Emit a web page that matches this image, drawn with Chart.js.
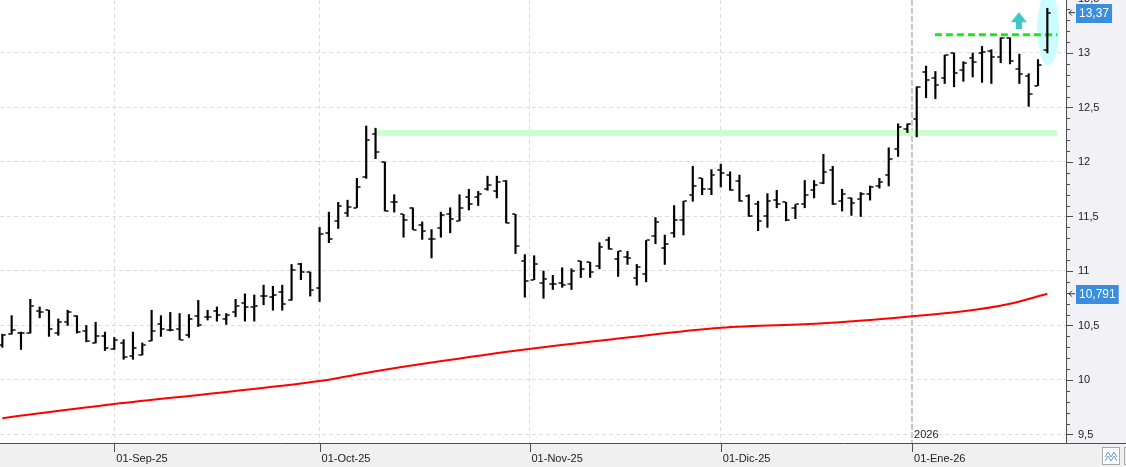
<!DOCTYPE html>
<html>
<head>
<meta charset="utf-8">
<script src="https://cdn.jsdelivr.net/npm/chart.js@4.4.1/dist/chart.umd.min.js"></script>
<style>
  html, body { margin: 0; padding: 0; background: #fff; }
  canvas { display: block; }
</style>
</head>
<body>
<canvas id="chart" width="1126" height="467"></canvas>
<script>
// Daily sessions, mid-Aug 2025 to late Jan 2026 (one entry per session)
const opens = [10.32,10.42,10.43,10.43,10.63,10.64,10.43,10.53,10.59,10.45,
  10.34,10.40,10.28,10.34,10.22,10.23,10.36,10.51,10.46,10.47,
  10.41,10.59,10.58,10.63,10.56,10.62,10.71,10.67,10.77,10.76,
  10.81,10.73,11.06,10.99,10.84,11.35,11.46,11.53,11.58,11.86,
  12.26,12.00,11.63,11.52,11.58,11.42,11.29,11.39,11.52,11.46,
  11.68,11.68,11.75,11.73,11.83,11.52,11.09,10.92,10.89,10.88,
  10.89,10.88,11.09,11.08,11.05,11.28,11.11,11.13,10.94,10.97,
  11.32,11.21,11.35,11.47,11.70,11.85,11.75,11.93,11.88,11.83,
  11.69,11.61,11.50,11.65,11.63,11.58,11.61,11.74,11.81,11.93,
  11.64,11.67,11.66,11.71,11.78,11.88,12.12,12.30,12.39,12.83,
  12.77,12.77,13.00,12.84,12.95,13.00,13.02,12.96,13.14,12.85,
  12.79,12.70,13.03];
const highs = [10.42,10.59,10.44,10.74,10.67,10.64,10.56,10.64,10.59,10.50,
  10.53,10.44,10.39,10.37,10.44,10.34,10.64,10.59,10.62,10.61,
  10.60,10.73,10.64,10.67,10.61,10.74,10.79,10.78,10.87,10.86,
  10.87,11.06,11.07,10.99,11.40,11.54,11.63,11.65,11.85,12.33,
  12.31,12.00,11.70,11.52,11.58,11.45,11.38,11.54,11.58,11.70,
  11.75,11.73,11.87,11.87,11.83,11.52,11.15,11.14,11.00,10.96,
  11.03,11.02,11.09,11.08,11.26,11.31,11.18,11.18,11.06,11.28,
  11.49,11.33,11.60,11.64,11.96,11.85,11.93,11.98,11.91,11.88,
  11.70,11.64,11.71,11.74,11.63,11.61,11.83,11.83,12.07,11.96,
  11.75,11.67,11.72,11.78,11.85,12.13,12.35,12.35,12.69,12.88,
  12.83,12.98,13.00,12.92,13.00,13.06,13.03,13.14,13.14,12.99,
  12.81,12.94,13.41];
const lows = [10.30,10.42,10.28,10.43,10.57,10.40,10.41,10.50,10.43,10.35,
  10.34,10.27,10.28,10.19,10.19,10.23,10.36,10.40,10.45,10.37,
  10.39,10.49,10.55,10.54,10.51,10.58,10.54,10.54,10.69,10.64,
  10.64,10.73,10.92,10.77,10.72,11.26,11.39,11.50,11.58,11.85,
  12.03,11.55,11.54,11.31,11.38,11.29,11.12,11.31,11.35,11.46,
  11.56,11.60,11.74,11.67,11.44,11.16,10.76,10.92,10.75,10.83,
  10.85,10.83,10.94,10.94,11.02,11.20,10.95,11.06,10.87,10.90,
  11.25,11.06,11.31,11.33,11.64,11.70,11.70,11.77,11.74,11.64,
  11.50,11.37,11.40,11.58,11.46,11.48,11.58,11.67,11.80,11.61,
  11.55,11.51,11.50,11.65,11.76,11.78,12.05,12.27,12.23,12.59,
  12.58,12.72,12.69,12.74,12.78,12.73,12.72,12.91,12.90,12.72,
  12.51,12.70,13.00];
const closes = [10.41,10.46,10.43,10.68,10.62,10.47,10.53,10.62,10.44,10.36,
  10.40,10.29,10.37,10.21,10.29,10.32,10.45,10.47,10.46,10.37,
  10.56,10.50,10.58,10.60,10.60,10.68,10.67,10.68,10.77,10.78,
  10.70,11.01,10.99,10.83,11.34,11.29,11.60,11.59,11.77,12.20,
  12.09,11.55,11.63,11.47,11.38,11.37,11.29,11.51,11.48,11.58,
  11.61,11.71,11.79,11.82,11.44,11.23,10.91,11.06,10.93,10.88,
  10.87,11.00,11.02,10.99,11.22,11.20,11.18,11.12,11.04,11.28,
  11.45,11.25,11.47,11.64,11.78,11.75,11.88,11.90,11.74,11.64,
  11.50,11.46,11.64,11.61,11.47,11.61,11.70,11.79,11.91,11.61,
  11.71,11.62,11.71,11.77,11.82,12.03,12.32,12.35,12.69,12.75,
  12.71,12.98,12.82,12.91,12.92,13.01,12.96,13.14,12.93,12.81,
  12.62,12.89,13.37];

// long moving average (red), read at a handful of sessions
const maIndex = [0, 12, 24, 34, 40, 46, 56, 66, 77, 88, 97, 103, 108, 112];
const maValues = [9.65, 9.78, 9.89, 9.99, 10.08, 10.16, 10.28, 10.38, 10.48, 10.52, 10.58, 10.63, 10.70, 10.791];

// month marks on the session axis
const monthPos = [12, 34, 56.5, 77, 97.5];
const monthLabels = ['01-Sep-25', '01-Oct-25', '01-Nov-25', '01-Dic-25', '01-Ene-26'];
const yearPos = 97.5;
const yearLabel = '2026';

// drawn lines: support band and resistance
const supportLevel = 12.265;
const supportFrom = 40.05, supportTo = 113.05;
const resistLevel = 13.168;
const resistFrom = 99.95, resistTo = 113.05;
// marker round the last session and arrow
const markIndex = 112.1, markLevel = 13.224;
const arrowIndex = 108.95, arrowLevel = 13.296;

const yMin = 9.422, yMax = 13.486;
const fmt = v => String(v).replace('.', ',');
const FONT = '"Liberation Sans", Arial, sans-serif';

// small images used as point styles
function tickImage(left) {
    const c = document.createElement('canvas');
    c.width = 8; c.height = 2;
    const g = c.getContext('2d');
    g.fillStyle = '#000';
    g.fillRect(left ? 0.5 : 4.5, 0.25, 3, 1.5);
    return c;
}
function ellipseImage() {
    const c = document.createElement('canvas');
    c.width = 22; c.height = 74;
    const g = c.getContext('2d');
    g.fillStyle = '#ccfcff';
    g.beginPath();
    g.ellipse(11, 37, 11, 37, 0, 0, Math.PI * 2);
    g.fill();
    return c;
}
function arrowImage() {
    const c = document.createElement('canvas');
    c.width = 16; c.height = 17;
    const g = c.getContext('2d');
    g.fillStyle = '#3cc8c8';
    g.beginPath();
    g.moveTo(8, 0); g.lineTo(16, 10); g.lineTo(0, 10); g.closePath();
    g.fill();
    g.fillRect(5, 10, 6, 7);
    return c;
}

const barData = highs.map((h, i) => ({ x: i, y: [lows[i], h] }));
const openData = opens.map((v, i) => ({ x: i, y: v }));
const closeData = closes.map((v, i) => ({ x: i, y: v }));
const maData = maIndex.map((x, i) => ({ x: x, y: maValues[i] }));

const yTicks = [];
for (let k = 94; k <= 135; k++) yTicks.push(k / 10);
const isMajor = v => Math.round(v * 10) % 5 === 0;

// backgrounds, axis marks and value boxes
const framePlugin = {
    id: 'frame',
    beforeDraw(chart) {
        const { ctx, chartArea: a, width, height } = chart;
        ctx.save();
        ctx.fillStyle = '#ffffff';
        ctx.fillRect(0, 0, width, height);
        ctx.fillStyle = '#f2f2f6';
        ctx.fillRect(a.right, 0, width - a.right, a.bottom);
        ctx.fillStyle = '#f0f0f0';
        ctx.fillRect(0, a.bottom, width, height - a.bottom);
        ctx.restore();
    },
    afterDraw(chart) {
        const { ctx, chartArea: a, width, scales } = chart;
        const xs = scales.x, ys = scales.y;
        ctx.save();
        ctx.strokeStyle = '#4d4d4d';
        ctx.lineWidth = 1;
        ctx.beginPath();
        ctx.moveTo(0, a.bottom + 0.5); ctx.lineTo(width, a.bottom + 0.5);
        monthPos.forEach(p => {
            const x = Math.round(xs.getPixelForValue(p)) + 0.5;
            ctx.moveTo(x, a.bottom); ctx.lineTo(x, a.bottom + 9);
        });
        yTicks.forEach(v => {
            const y = Math.round(ys.getPixelForValue(v)) + 0.5;
            if (y > a.bottom) return;
            ctx.moveTo(a.right, y); ctx.lineTo(a.right + (isMajor(v) ? 7 : 4), y);
        });
        ctx.stroke();

        // year label
        ctx.fillStyle = '#222';
        ctx.font = '11px ' + FONT;
        ctx.textBaseline = 'middle';
        ctx.fillText(yearLabel, xs.getPixelForValue(yearPos) + 2, a.bottom - 8);

        // value boxes on the price axis
        const boxes = [[closes[closes.length - 1], '#3b8ede'], [maValues[maValues.length - 1], '#3b8ede']];
        ctx.font = '12px ' + FONT;
        boxes.forEach(([v, col]) => {
            const y = ys.getPixelForValue(v);
            const txt = fmt(v);
            const w = ctx.measureText(txt).width + 6;
            ctx.fillStyle = col;
            ctx.fillRect(a.right + 10, Math.round(y) - 9, w, 19);
            ctx.fillStyle = '#fff';
            ctx.fillText(txt, a.right + 13, Math.round(y) + 1);
            ctx.strokeStyle = '#333';
            ctx.beginPath();
            ctx.moveTo(a.right + 6, y - 3); ctx.lineTo(a.right + 3, y); ctx.lineTo(a.right + 6, y + 3);
            ctx.moveTo(a.right + 3, y); ctx.lineTo(a.right + 9, y);
            ctx.stroke();
        });

        // small button in the corner
        ctx.fillStyle = '#fff';
        ctx.strokeStyle = '#a8a8a8';
        ctx.fillRect(1102.5, 447.5, 17, 17);
        ctx.strokeRect(1102.5, 447.5, 17, 17);
        ctx.strokeRect(1124.5, 447.5, 17, 17);
        ctx.strokeStyle = '#6a9ad0';
        ctx.beginPath();
        ctx.moveTo(1105, 457); ctx.lineTo(1108, 452); ctx.lineTo(1111, 457); ctx.lineTo(1114, 452); ctx.lineTo(1117, 457);
        ctx.moveTo(1105, 461); ctx.lineTo(1108, 456); ctx.lineTo(1111, 461); ctx.lineTo(1114, 456); ctx.lineTo(1117, 461);
        ctx.stroke();
        ctx.restore();
    }
};

Chart.defaults.font.family = FONT;

new Chart(document.getElementById('chart').getContext('2d'), {
    type: 'bar',
    data: {
        datasets: [
            {
                type: 'line', data: [{ x: supportFrom, y: supportLevel }, { x: supportTo, y: supportLevel }],
                borderColor: '#ccffcc', borderWidth: 6, pointRadius: 0, order: 10
            },
            {
                type: 'scatter', data: [{ x: markIndex, y: markLevel }],
                pointStyle: ellipseImage(), pointRadius: 3, order: 9
            },
            {
                type: 'line', data: maData, borderColor: '#ff0000', borderWidth: 2,
                pointRadius: 0, cubicInterpolationMode: 'monotone', order: 5
            },
            {
                type: 'line', data: [{ x: resistFrom, y: resistLevel }, { x: resistTo, y: resistLevel }],
                borderColor: '#1ee61e', borderWidth: 3, borderDash: [7, 4], pointRadius: 0, order: 4
            },
            {
                type: 'bar', data: barData, backgroundColor: '#000', barThickness: 1.5, order: 3
            },
            {
                type: 'scatter', data: openData, pointStyle: tickImage(true), pointRadius: 2, order: 2
            },
            {
                type: 'scatter', data: closeData, pointStyle: tickImage(false), pointRadius: 2, order: 1
            },
            {
                type: 'scatter', data: [{ x: arrowIndex, y: arrowLevel }],
                pointStyle: arrowImage(), pointRadius: 3, order: 0
            }
        ]
    },
    options: {
        responsive: false,
        animation: false,
        events: [],
        layout: { padding: 0, autoPadding: false },
        plugins: { legend: { display: false }, tooltip: { enabled: false } },
        scales: {
            x: {
                type: 'linear', min: -0.25, max: 114, offset: false,
                afterBuildTicks: s => { s.ticks = monthPos.map(v => ({ value: v })); },
                afterFit: s => { s.height = 24; s.paddingLeft = 0; s.paddingRight = 0; },
                ticks: {
                    autoSkip: false, maxRotation: 0, align: 'start', labelOffset: 2, padding: 9,
                    color: '#222', font: { size: 11 },
                    callback: (v, i) => monthLabels[i]
                },
                grid: {
                    offset: false, drawTicks: false,
                    color: c => (c.tick && c.tick.value === yearPos) ? '#c8c8c8' : '#dddddd',
                    lineWidth: c => (c.tick && c.tick.value === yearPos) ? 2 : 1
                },
                border: { display: false, dash: c => (c.tick && c.tick.value === yearPos) ? [6, 2] : [4, 3] }
            },
            y: {
                type: 'linear', position: 'right', min: yMin, max: yMax, beginAtZero: false,
                afterBuildTicks: s => { s.ticks = yTicks.map(v => ({ value: v })); },
                afterFit: s => { s.width = 60; s.paddingTop = 0; s.paddingBottom = 0; },
                ticks: {
                    autoSkip: false, padding: 12, color: '#222', font: { size: 11 },
                    callback: v => isMajor(v) ? fmt(Math.round(v * 10) / 10) : ''
                },
                grid: {
                    drawTicks: false,
                    color: c => (c.tick && isMajor(c.tick.value)) ? '#dddddd' : 'rgba(0,0,0,0)',
                    lineWidth: c => (c.tick && isMajor(c.tick.value)) ? 1 : 0
                },
                border: { display: true, color: '#4d4d4d', width: 1, dash: [4, 3] }
            }
        }
    },
    plugins: [framePlugin]
});
</script>
</body>
</html>
